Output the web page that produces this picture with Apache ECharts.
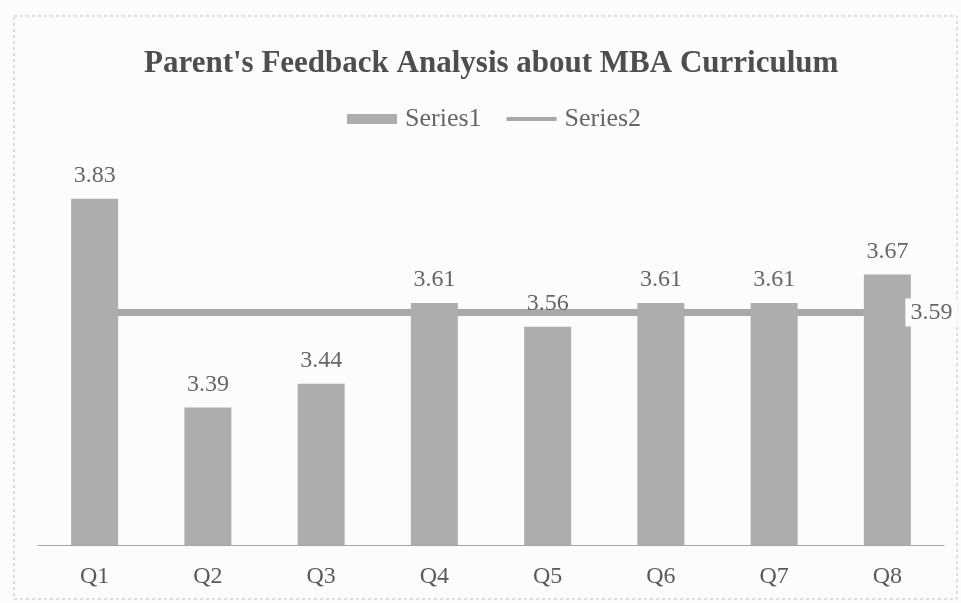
<!DOCTYPE html>
<html>
<head>
<meta charset="utf-8">
<script src="https://cdn.jsdelivr.net/npm/echarts@6/dist/echarts.min.js"></script>
<style>
html,body{margin:0;padding:0;background:#fcfcfc;}
#chart{width:961px;height:603px;}
</style>
</head>
<body>
<div id="chart"></div>
<script>
var categories = ['Q1', 'Q2', 'Q3', 'Q4', 'Q5', 'Q6', 'Q7', 'Q8'];
var series1 = [3.83, 3.39, 3.44, 3.61, 3.56, 3.61, 3.61, 3.67];
var series2 = [3.59, 3.59, 3.59, 3.59, 3.59, 3.59, 3.59, 3.59];
var titleText = "Parent's Feedback Analysis about MBA Curriculum";

var serif = '"Liberation Serif", "DejaVu Serif", serif';
var lastIdx = series2.length - 1;
var series2Labelled = series2.map(function (v, i) {
  return i === lastIdx ? { value: v, label: { show: true } } : v;
});

var chart = echarts.init(document.getElementById('chart'));
chart.setOption({
  backgroundColor: '#fcfcfc',
  animation: false,
  title: {
    text: titleText,
    left: 139,
    top: 43,
    textStyle: { fontFamily: serif, fontSize: 31, fontWeight: 'bold', color: '#4e4e4e' }
  },
  legend: {
    data: [
      { name: 'Series1', icon: 'rect' },
      { name: 'Series2', icon: 'path://M0,0h50v0.01h-50z M0,3h50v4h-50z M0,9.99h50v0.01h-50z' }
    ],
    left: 342,
    top: 101,
    itemWidth: 50,
    itemHeight: 10,
    itemGap: 25,
    textStyle: { fontFamily: serif, fontSize: 26, color: '#666', padding: [0, 0, 0, 3] }
  },
  graphic: [{
    type: 'rect',
    shape: { x: 14, y: 16, width: 943, height: 583 },
    style: { fill: 'none', stroke: '#bdbdbd', lineWidth: 1, lineDash: [3, 3] },
    silent: true
  }],
  grid: { left: 38, right: 17, top: 118, bottom: 58 },
  xAxis: {
    type: 'category',
    data: categories,
    axisLine: { lineStyle: { color: '#a5a5a5', width: 1 } },
    axisTick: { show: false },
    axisLabel: { fontFamily: serif, fontSize: 24, color: '#5a5a5a', margin: 20 }
  },
  yAxis: {
    type: 'value',
    min: 3.1,
    max: 4.0,
    show: false,
    splitLine: { show: false }
  },
  series: [
    {
      name: 'Series2',
      type: 'line',
      data: series2,
      z: 1,
      symbol: 'none',
      lineStyle: { color: '#a8a8a8', width: 7 },
      itemStyle: { color: '#a8a8a8' }
    },
    {
      name: 'Series1',
      type: 'bar',
      data: series1,
      z: 3,
      barWidth: 47,
      itemStyle: { color: '#adadad' },
      label: {
        show: true,
        position: 'top',
        distance: 11,
        fontFamily: serif,
        fontSize: 24,
        color: '#666'
      }
    },
    {
      name: 'Series2 label',
      type: 'line',
      data: series2Labelled,
      z: 5,
      symbol: 'circle',
      symbolSize: 2,
      showSymbol: true,
      showAllSymbol: true,
      silent: true,
      itemStyle: { color: 'rgba(0,0,0,0)', borderWidth: 0 },
      lineStyle: { width: 0, color: 'rgba(0,0,0,0)' },
      label: {
        show: false,
        position: 'right',
        distance: 17,
        fontFamily: serif,
        fontSize: 24,
        color: '#666',
        backgroundColor: '#fcfcfc',
        padding: [2, 5]
      }
    }
  ]
});
</script>
</body>
</html>
